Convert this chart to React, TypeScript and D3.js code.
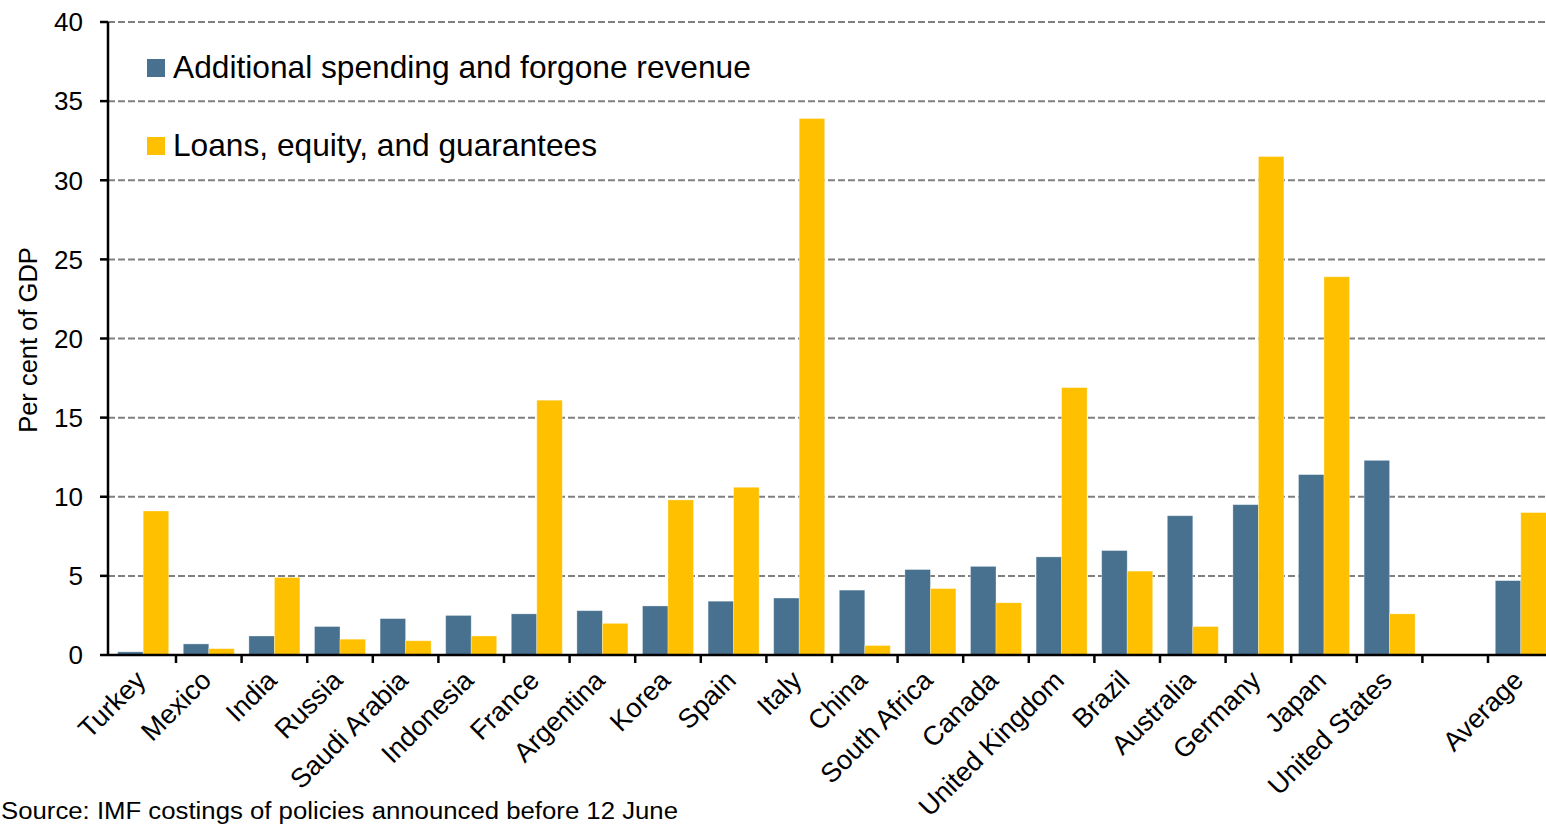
import React from "react";
import * as d3 from "d3";

const categories = [
  "Turkey", "Mexico", "India", "Russia", "Saudi Arabia", "Indonesia", "France",
  "Argentina", "Korea", "Spain", "Italy", "China", "South Africa", "Canada",
  "United Kingdom", "Brazil", "Australia", "Germany", "Japan", "United States",
  " ", "Average",
];

const spending = [
  0.2, 0.7, 1.2, 1.8, 2.3, 2.5, 2.6, 2.8, 3.1, 3.4, 3.6, 4.1, 5.4, 5.6, 6.2,
  6.6, 8.8, 9.5, 11.4, 12.3, null, 4.7,
];

const loans = [
  9.1, 0.4, 4.9, 1.0, 0.9, 1.2, 16.1, 2.0, 9.8, 10.6, 33.9, 0.6, 4.2, 3.3, 16.9,
  5.3, 1.8, 31.5, 23.9, 2.6, null, 9.0,
];

const seriesNames = ["Additional spending and forgone revenue", "Loans, equity, and guarantees"];
const seriesColors = ["#47718F", "#FFC000"];
const yTicks = [0, 5, 10, 15, 20, 25, 30, 35, 40];

const W = 1546;
const H = 824;

export default function App() {
  const slot = 65.6;
  const x0 = 110.4;
  const x = d3
    .scaleBand<string>()
    .domain(categories)
    .range([x0, x0 + slot * categories.length])
    .padding(0);
  const pad = 7.3;
  const x1 = d3
    .scaleBand<number>()
    .domain([0, 1])
    .range([pad, x.bandwidth() - pad])
    .padding(0);
  const y = d3.scaleLinear().domain([0, 40]).range([655, 22]);
  const axisX = 108;
  const font = "'Liberation Sans', Arial, sans-serif";
  const values = [spending, loans];

  return (
    <svg
      width={W}
      height={H}
      style={{ position: "absolute", left: 0, top: 0, background: "#fff" }}
      fontFamily={font}
    >
      {/* gridlines */}
      {yTicks.filter((t) => t > 0).map((t) => (
        <line
          key={"g" + t}
          x1={axisX}
          x2={W}
          y1={y(t)}
          y2={y(t)}
          stroke="#808080"
          strokeWidth={2}
          strokeDasharray="7,3"
        />
      ))}
      {/* bars */}
      {categories.map((c, i) => (
        <g key={"c" + i} transform={`translate(${x(c)},0)`}>
          {values.map((arr, s) => {
            const v = arr[i];
            if (v == null) return null;
            return (
              <rect
                key={s}
                x={x1(s)}
                y={y(v)}
                width={x1.bandwidth()}
                height={y(0) - y(v)}
                fill={seriesColors[s]}
                stroke="#ffffff"
                strokeOpacity={0.4}
                strokeWidth={0.8}
              />
            );
          })}
        </g>
      ))}
      {/* y axis */}
      <line x1={axisX} x2={axisX} y1={y(40)} y2={y(0)} stroke="#000" strokeWidth={2.5} />
      {yTicks.map((t) => (
        <g key={"yt" + t}>
          <line x1={axisX - 8} x2={axisX} y1={y(t)} y2={y(t)} stroke="#000" strokeWidth={2.5} />
          <text x={83} y={y(t)} dy="0.36em" textAnchor="end" fontSize={26} fill="#000">
            {t}
          </text>
        </g>
      ))}
      {/* x axis */}
      <line x1={axisX} x2={W} y1={y(0)} y2={y(0)} stroke="#000" strokeWidth={2.5} />
      {categories.slice(1).map((c, i) => (
        <line
          key={"xt" + i}
          x1={x(c)}
          x2={x(c)}
          y1={y(0)}
          y2={y(0) + 8}
          stroke="#000"
          strokeWidth={2.5}
        />
      ))}
      {categories.map((c, i) =>
        c.trim() ? (
          <text
            key={"xl" + i}
            transform={`translate(${(x(c) as number) + x.bandwidth() / 2 + 4},682) rotate(-45)`}
            textAnchor="end"
            fontSize={27}
            fill="#000"
          >
            {c}
          </text>
        ) : null
      )}
      {/* y label */}
      <text
        transform={`translate(37,340) rotate(-90)`}
        textAnchor="middle"
        fontSize={25.5}
        fill="#000"
      >
        Per cent of GDP
      </text>
      {/* legend */}
      {seriesNames.map((n, s) => (
        <g key={"lg" + s} transform={`translate(147,${59 + s * 78})`}>
          <rect x={0} y={0} width={18} height={18} fill={seriesColors[s]} />
          <text x={26} y={18.5} fontSize={31.7} fill="#000">
            {n}
          </text>
        </g>
      ))}
      {/* source */}
      <text
        x={1}
        y={819}
        fontSize={23}
        fill="#000"
        textLength={677}
        lengthAdjust="spacingAndGlyphs"
      >
        Source: IMF costings of policies announced before 12 June
      </text>
    </svg>
  );
}
